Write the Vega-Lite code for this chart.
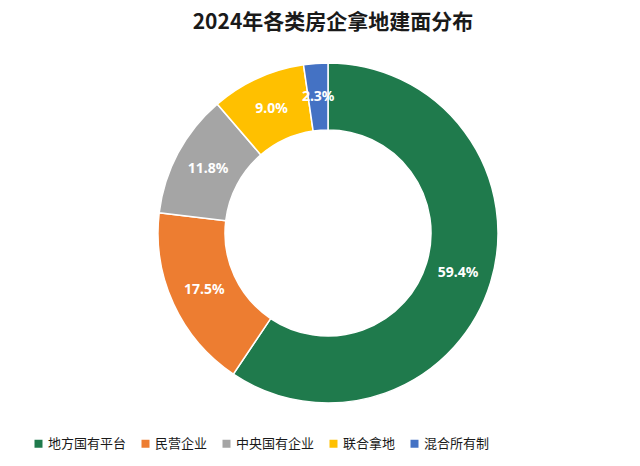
{
  "$schema": "https://vega.github.io/schema/vega-lite/v6.json",
  "autosize": "none",
  "width": 624,
  "height": 386,
  "padding": {"left": 16, "top": 40, "right": 0, "bottom": 40},
  "background": "white",
  "title": {
    "text": "2024年各类房企拿地建面分布",
    "font": "Noto Sans CJK SC",
    "fontSize": 21,
    "fontWeight": "bold",
    "color": "#1a1a1a",
    "anchor": "middle",
    "dx": 5,
    "offset": 7
  },
  "data": {
    "values": [
      {"category": "地方国有平台", "value": 59.4, "label": "59.4%", "order": 1},
      {"category": "民营企业", "value": 17.5, "label": "17.5%", "order": 2},
      {"category": "中央国有企业", "value": 11.8, "label": "11.8%", "order": 3},
      {"category": "联合拿地", "value": 9.0, "label": "9.0%", "order": 4},
      {"category": "混合所有制", "value": 2.3, "label": "2.3%", "order": 5}
    ]
  },
  "encoding": {
    "theta": {"field": "value", "type": "quantitative", "stack": true},
    "order": {"field": "order", "type": "quantitative"}
  },
  "layer": [
    {
      "mark": {"type": "arc", "outerRadius": 170, "innerRadius": 103, "stroke": "white", "strokeWidth": 1.5},
      "encoding": {
        "color": {
          "field": "category",
          "type": "nominal",
          "sort": ["地方国有平台", "民营企业", "中央国有企业", "联合拿地", "混合所有制"],
          "scale": {
            "domain": ["地方国有平台", "民营企业", "中央国有企业", "联合拿地", "混合所有制"],
            "range": ["#1F7A4C", "#ED7D31", "#A5A5A5", "#FFC000", "#4472C4"]
          },
          "legend": {
            "title": null,
            "orient": "none",
            "direction": "horizontal",
            "legendX": 16,
            "legendY": 397,
            "symbolType": "square",
            "symbolSize": 64,
            "symbolStrokeWidth": 0,
            "labelFont": "Noto Sans CJK SC",
            "labelFontSize": 13,
            "labelColor": "#1a1a1a",
            "labelOffset": 3,
            "columnPadding": 12
          }
        }
      }
    },
    {
      "mark": {"type": "text", "radius": 136, "font": "Noto Sans", "fontSize": 14, "fontWeight": "bold", "color": "white"},
      "encoding": {
        "text": {"field": "label", "type": "nominal"}
      }
    }
  ]
}
